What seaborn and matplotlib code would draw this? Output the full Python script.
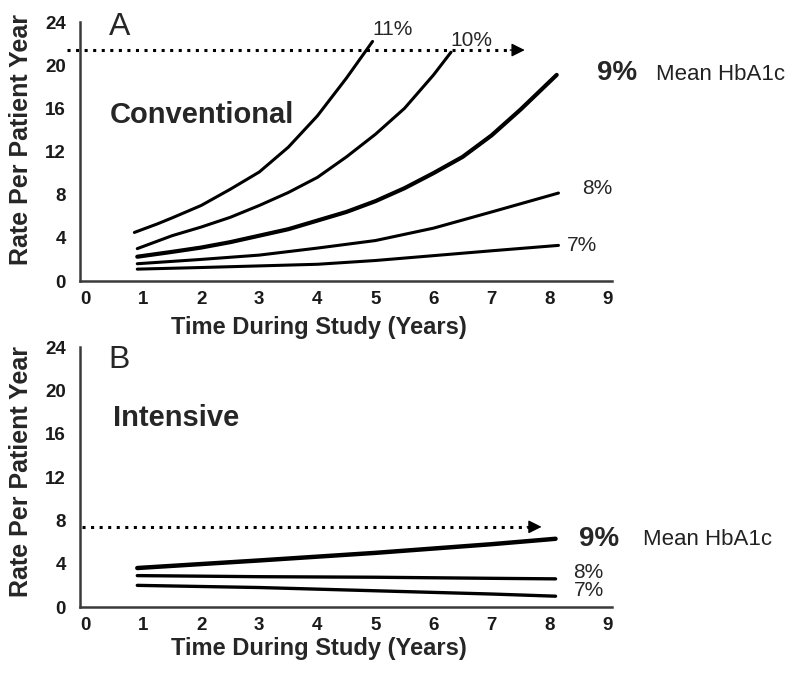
import matplotlib
matplotlib.use("Agg")
import matplotlib.pyplot as plt
import seaborn as sns

# Panel A - conventional treatment, rate per patient year by mean HbA1c
conv_x_11 = [0.85, 1.25, 1.5, 2, 2.5, 3, 3.5, 4, 4.5, 4.95]
conv_y_11 = [4.5, 5.3, 5.85, 7.0, 8.5, 10.1, 12.4, 15.3, 18.8, 22.2]
conv_x_10 = [0.9, 1.5, 2, 2.5, 3, 3.5, 4, 4.5, 5, 5.5, 6, 6.3]
conv_y_10 = [3.0, 4.2, 5.0, 5.9, 7.0, 8.2, 9.6, 11.5, 13.6, 16.0, 19.1, 21.2]
conv_x_9 = [0.9, 1.5, 2, 2.5, 3, 3.5, 4, 4.5, 5, 5.5, 6, 6.5, 7, 7.5, 8.12]
conv_y_9 = [2.25, 2.7, 3.1, 3.6, 4.2, 4.8, 5.6, 6.4, 7.4, 8.6, 10.0, 11.5, 13.5, 15.9, 19.1]
conv_x_8 = [0.9, 2, 3, 4, 5, 6, 7, 8.15]
conv_y_8 = [1.6, 2.0, 2.4, 3.05, 3.75, 4.9, 6.4, 8.15]
conv_x_7 = [0.9, 2, 3, 4, 5, 6, 7, 8.15]
conv_y_7 = [1.1, 1.25, 1.4, 1.55, 1.9, 2.35, 2.8, 3.3]
conv_threshold = 21.4

# Panel B - intensive treatment
int_x = [0.9, 3, 5, 7, 8.1]
int_y_9 = [3.6, 4.3, 5.0, 5.8, 6.3]
int_y_8 = [2.9, 2.8, 2.75, 2.65, 2.6]
int_y_7 = [2.0, 1.8, 1.5, 1.2, 1.0]
int_threshold = 7.4

x_ticks = list(range(0, 10))
y_ticks = [0, 4, 8, 12, 16, 20, 24]

sns.set_style("white")
plt.rcParams['font.family'] = ['Liberation Sans', 'DejaVu Sans']

fig = plt.figure(figsize=(8, 6.75), dpi=100)
ax_a = fig.add_axes([0.1, 0.5837, 0.6646, 0.3837])
ax_b = fig.add_axes([0.1, 0.1007, 0.6646, 0.3852])


def style_axes(ax, label_y, ylabel_y):
    ax.set_xlim(-0.086, 9.066)
    ax.set_ylim(0, 24)
    ax.set_xticks(x_ticks)
    ax.set_yticks(y_ticks)
    sns.despine(ax=ax)
    for side in ['left', 'bottom']:
        ax.spines[side].set_color('#3a3a3a')
        ax.spines[side].set_linewidth(1.8)
    ax.tick_params(axis='both', length=0, labelsize=13.5, labelcolor='#1a1a1a')
    ax.tick_params(axis='x', pad=7)
    ax.tick_params(axis='y', pad=10)
    for t in ax.get_xticklabels() + ax.get_yticklabels():
        t.set_fontweight('bold')
    ax.set_xlabel('Time During Study (Years)', fontsize=17, fontweight='bold')
    ax.set_ylabel('Rate Per Patient Year', fontsize=18, fontweight='bold')
    ax.xaxis.set_label_coords(0.449, label_y)
    ax.yaxis.set_label_coords(-0.088, ylabel_y)


def dotted_arrow(ax, x0, x1, y):
    ax.plot([x0, x1 - 0.2], [y, y], color='black', lw=2.2,
            linestyle=(0, (1, 1.8)), clip_on=False)
    ax.annotate('', xy=(x1, y), xytext=(x1 - 0.25, y),
                arrowprops=dict(arrowstyle='-|>', color='black', lw=1,
                                mutation_scale=20, shrinkA=0, shrinkB=0),
                annotation_clip=False)


# ---- Panel A ----
conv_series = [(conv_x_11, conv_y_11, 2.2), (conv_x_10, conv_y_10, 2.2),
               (conv_x_9, conv_y_9, 3.0), (conv_x_8, conv_y_8, 2.2),
               (conv_x_7, conv_y_7, 2.2)]
for xs, ys, lw in conv_series:
    sns.lineplot(x=xs, y=ys, ax=ax_a, color='black', lw=lw,
                 estimator=None, sort=False)
style_axes(ax_a, -0.135, 0.545)
dotted_arrow(ax_a, -0.31, 7.57, conv_threshold)

ax_a.text(0.59, 23.5, 'A', fontsize=23, ha='center', va='center')
ax_a.text(0.43, 15.4, 'Conventional', fontsize=21, fontweight='bold', va='center')
ax_a.text(4.94, 23.3, '11%', fontsize=15, va='center')
ax_a.text(6.29, 22.3, '10%', fontsize=15, va='center')
ax_a.text(8.82, 19.3, '9%', fontsize=20, fontweight='bold', va='center')
ax_a.text(9.83, 19.1, 'Mean HbA1c', fontsize=16, va='center', color='#222222')
ax_a.text(8.56, 8.6, '8%', fontsize=15, va='center')
ax_a.text(8.30, 3.3, '7%', fontsize=15, va='center')

# ---- Panel B ----
int_series = [(int_y_9, 3.2), (int_y_8, 2.4), (int_y_7, 2.4)]
for ys, lw in int_series:
    sns.lineplot(x=int_x, y=ys, ax=ax_b, color='black', lw=lw,
                 estimator=None, sort=False)
style_axes(ax_b, -0.115, 0.52)
dotted_arrow(ax_b, -0.06, 7.86, int_threshold)

ax_b.text(0.59, 22.8, 'B', fontsize=23, ha='center', va='center')
ax_b.text(0.48, 17.45, 'Intensive', fontsize=21, fontweight='bold', va='center')
ax_b.text(8.5, 6.3, '9%', fontsize=20, fontweight='bold', va='center')
ax_b.text(9.6, 6.2, 'Mean HbA1c', fontsize=16, va='center', color='#222222')
ax_b.text(8.41, 3.2, '8%', fontsize=15, va='center')
ax_b.text(8.41, 1.5, '7%', fontsize=15, va='center')

fig.savefig('out.png', dpi=100)
